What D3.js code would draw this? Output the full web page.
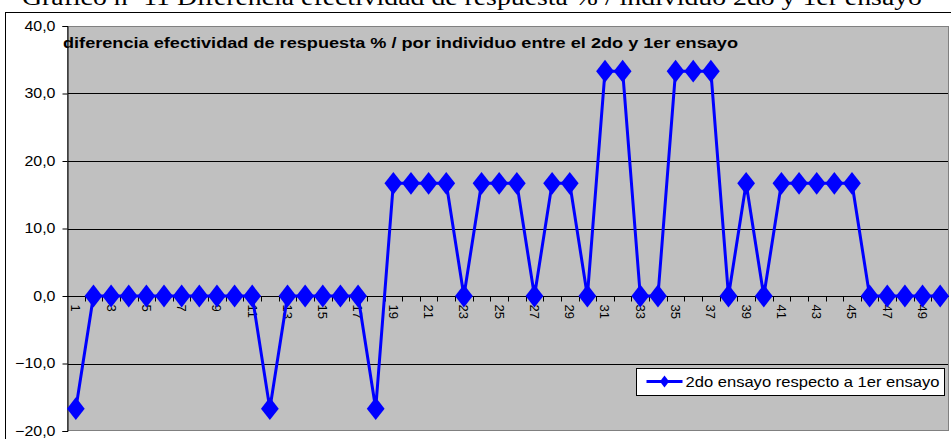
<!DOCTYPE html>
<html>
<head>
<meta charset="utf-8">
<script src="https://cdn.jsdelivr.net/npm/d3@7"></script>
<style>
  html, body { margin: 0; padding: 0; background: #ffffff; }
  svg { display: block; }
</style>
</head>
<body>
<svg id="chart" width="951" height="439"></svg>
<script>
// Individuals 1..50 and the difference in response effectiveness (%)
const individuos = d3.range(1, 51);
const diferencia = [
  -16.7, 0, 0, 0, 0, 0, 0, 0, 0, 0,
  0, -16.7, 0, 0, 0, 0, 0, -16.7, 16.7, 16.7,
  16.7, 16.7, 0, 16.7, 16.7, 16.7, 0, 16.7, 16.7, 0,
  33.3, 33.3, 0, 0, 33.3, 33.3, 33.3, 0, 16.7, 0,
  16.7, 16.7, 16.7, 16.7, 16.7, 0, 0, 0, 0, 0
];
const yTicks = [-20, -10, 0, 10, 20, 30, 40];
const serieNombre = "2do ensayo respecto a 1er ensayo";
const tituloGrafico = "diferencia efectividad de respuesta % / por individuo entre el 2do y 1er ensayo";
const encabezado = "Gráfico nº 11  Diferencia efectividad de respuesta % / individuo 2do y 1er ensayo";

const svg = d3.select("#chart");
const fmt = v => d3.format(".1f")(v).replace(".", ",");

// Widen rendered text horizontally by a factor (the chart's type is slightly wide)
function stretch(sel, k) {
  sel.each(function () {
    const w = this.getComputedTextLength();
    d3.select(this).attr("textLength", w * k).attr("lengthAdjust", "spacingAndGlyphs");
  });
}

// Page caption above the chart frame (its top runs off the page)
svg.append("text")
  .attr("x", 22).attr("y", 5)
  .attr("font-family", "'Liberation Serif', 'Times New Roman', serif")
  .attr("font-size", 24)
  .attr("fill", "#000")
  .attr("textLength", 900).attr("lengthAdjust", "spacingAndGlyphs")
  .text(encabezado);

// Chart frame
svg.append("rect")
  .attr("x", 5.5).attr("y", 12.5)
  .attr("width", 960).attr("height", 440)
  .attr("fill", "#ffffff").attr("stroke", "#000").attr("stroke-width", 1);

const plot = { left: 67, right: 949, top: 26, bottom: 431 };

const x = d3.scaleBand()
  .domain(individuos)
  .range([plot.left, plot.right])
  .padding(0);

const y = d3.scaleLinear()
  .domain([-20, 40])
  .range([plot.bottom, plot.top]);

// Plot area
svg.append("rect")
  .attr("x", plot.left).attr("y", plot.top)
  .attr("width", plot.right - plot.left).attr("height", plot.bottom - plot.top)
  .attr("fill", "#c0c0c0");

// Horizontal gridlines
svg.append("g")
  .selectAll("line")
  .data(yTicks.filter(t => t !== -20 && t !== 40))
  .join("line")
  .attr("x1", plot.left).attr("x2", plot.right)
  .attr("y1", d => Math.round(y(d)) + 0.5).attr("y2", d => Math.round(y(d)) + 0.5)
  .attr("stroke", "#000").attr("stroke-width", 1);

// Plot border
svg.append("rect")
  .attr("x", plot.left + 0.5).attr("y", plot.top + 0.5)
  .attr("width", plot.right - plot.left - 1).attr("height", plot.bottom - plot.top - 1)
  .attr("fill", "none").attr("stroke", "#808080").attr("stroke-width", 1);

// Y axis
const yAxis = svg.append("g")
  .attr("transform", `translate(${plot.left + 0.5},0)`)
  .call(d3.axisLeft(y).tickValues(yTicks).tickFormat(fmt).tickSize(5).tickPadding(7));
yAxis.select(".domain").attr("stroke", "#000");
yAxis.selectAll(".tick line").attr("stroke", "#000");
yAxis.selectAll(".tick text")
  .attr("font-family", "'Liberation Sans', Arial, sans-serif")
  .attr("font-size", 14).attr("fill", "#000")
  .call(stretch, 1.14);

// X axis along zero, ticks at category boundaries
const y0 = Math.round(y(0)) + 0.5;
svg.append("line")
  .attr("x1", plot.left).attr("x2", plot.right)
  .attr("y1", y0).attr("y2", y0)
  .attr("stroke", "#000");
svg.append("g")
  .selectAll("line")
  .data(individuos.slice(1))
  .join("line")
  .attr("x1", d => Math.round(x(d)) + 0.5).attr("x2", d => Math.round(x(d)) + 0.5)
  .attr("y1", y0).attr("y2", y0 + 5)
  .attr("stroke", "#000");

// Odd category labels, rotated
svg.append("g")
  .selectAll("text")
  .data(individuos.filter(d => d % 2 === 1))
  .join("text")
  .attr("transform", d => `translate(${x(d) + x.bandwidth() / 2},${y0 + 8}) rotate(90)`)
  .attr("dy", "0.35em")
  .attr("text-anchor", "start")
  .attr("font-family", "'Liberation Sans', Arial, sans-serif")
  .attr("font-size", 13)
  .attr("fill", "#000")
  .text(d => d);

// Series line and diamond markers
const cx = (d, i) => x(individuos[i]) + x.bandwidth() / 2;
const line = d3.line().x(cx).y(d => y(d));
svg.append("path")
  .datum(diferencia)
  .attr("d", line)
  .attr("fill", "none")
  .attr("stroke", "#0000ff")
  .attr("stroke-width", 3)
  .attr("stroke-linejoin", "round");

const diamond = d3.symbol().type(d3.symbolDiamond).size(150);
svg.append("g")
  .selectAll("path")
  .data(diferencia)
  .join("path")
  .attr("transform", (d, i) => `translate(${cx(d, i)},${y(d)}) scale(1.35,1)`)
  .attr("d", diamond)
  .attr("fill", "#0000ff");

// Chart title inside plot area
svg.append("text")
  .attr("x", 63).attr("y", 48)
  .attr("font-family", "'Liberation Sans', Arial, sans-serif")
  .attr("font-size", 15).attr("font-weight", "bold")
  .attr("fill", "#000")
  .attr("textLength", 675).attr("lengthAdjust", "spacingAndGlyphs")
  .text(tituloGrafico);

// Legend
const legend = svg.append("g").attr("transform", "translate(636.5,368.5)");
legend.append("rect")
  .attr("width", 308).attr("height", 27)
  .attr("fill", "#ffffff").attr("stroke", "#000");
legend.append("line")
  .attr("x1", 10).attr("x2", 46).attr("y1", 13).attr("y2", 13)
  .attr("stroke", "#0000ff").attr("stroke-width", 3);
legend.append("path")
  .attr("transform", "translate(28,13) scale(1.35,1)")
  .attr("d", d3.symbol().type(d3.symbolDiamond).size(40))
  .attr("fill", "#0000ff");
legend.append("text")
  .attr("x", 49).attr("y", 18.5)
  .attr("font-family", "'Liberation Sans', Arial, sans-serif")
  .attr("font-size", 15).attr("fill", "#000")
  .attr("textLength", 254).attr("lengthAdjust", "spacingAndGlyphs")
  .text(serieNombre);
</script>
</body>
</html>
